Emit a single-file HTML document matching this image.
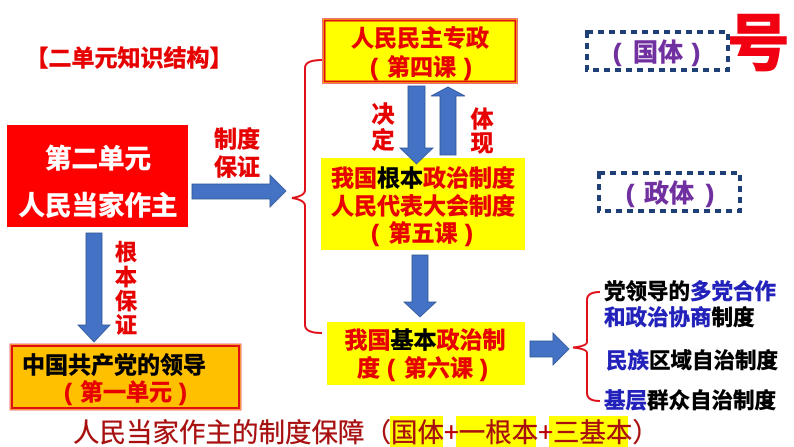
<!DOCTYPE html>
<html><head><meta charset="utf-8">
<style>
html,body{margin:0;padding:0;background:#fff;width:794px;height:447px;overflow:hidden}
svg{display:block}
text{font-family:"Liberation Sans","Noto Sans CJK SC",sans-serif;font-weight:700;stroke-width:.55px}
.r{fill:#E60000;stroke:#E60000}
.k{fill:#000;stroke:#000}
.b{fill:#2222BB;stroke:#2222BB}
.w{fill:#fff;stroke:#fff}
.p{fill:#7030A0;stroke:#7030A0}
.m{text-anchor:middle}
.ar{fill:#4472C4;stroke:#2F5597;stroke-width:.8}
</style></head><body>
<svg width="794" height="447" viewBox="0 0 794 447" xmlns="http://www.w3.org/2000/svg">
<rect width="794" height="447" fill="#fff"/>

<!-- title -->
<text x="129" y="66" font-size="23" class="r m">【二单元知识结构】</text>

<!-- red box -->
<rect x="7" y="125" width="181" height="102" fill="#FF0000"/>
<text x="98" y="168" font-size="26.500" class="w m">第二单元</text>
<text x="98" y="215" font-size="26.500" class="w m">人民当家作主</text>

<!-- arrow right -->
<polygon class="ar" points="192,184 270,184 270,175 286,191 270,207 270,199 192,199"/>
<text x="237" y="147" font-size="23" class="r m">制度</text>
<text x="237" y="175" font-size="23" class="r m">保证</text>

<!-- left bracket -->
<path d="M322 60 Q305 60 305 68 L305 190 Q305 196 292 198 Q305 200 305 206 L305 325 Q305 333 322 333" fill="none" stroke="#E0101A" stroke-width="2"/>

<!-- top box -->
<rect x="322.500" y="18.500" width="195" height="65" fill="#FFFF00" stroke="#F0707A" stroke-width="1"/>
<rect x="324.500" y="20.500" width="191" height="61" fill="#FFFF00" stroke="#E01010" stroke-width="2"/>
<text x="420" y="46" font-size="23" class="r m">人民民主专政</text>
<text x="374" y="75" font-size="23" class="r m">(</text>
<text x="421.500" y="75" font-size="23" class="r m">第四课</text>
<text x="468" y="75" font-size="23" class="r m">)</text>

<!-- middle box -->
<rect x="321" y="158" width="204" height="92" fill="#FFFF00"/>
<text x="423" y="186" font-size="23" class="r m">我国<tspan class="k">根本</tspan>政治制度</text>
<text x="423" y="214" font-size="23" class="r m">人民代表大会制度</text>
<text x="375" y="241" font-size="23" class="r m">(</text>
<text x="423" y="241" font-size="23" class="r m">第五课</text>
<text x="469" y="241" font-size="23" class="r m">)</text>

<!-- down/up arrows -->
<polygon class="ar" points="408,86 425,86 425,148 433,148 416.500,164 400,148 408,148"/>
<polygon class="ar" points="440,155 456,155 456,96 465,96 448,87 431,96 440,96"/>
<text x="383" y="122" font-size="23" class="r m">决</text>
<text x="383" y="148" font-size="23" class="r m">定</text>
<text x="482" y="127" font-size="23" class="r m">体</text>
<text x="482" y="151" font-size="23" class="r m">现</text>

<!-- down arrow -->
<polygon class="ar" points="412,255 428,255 428,302 436,302 420,317 404,302 412,302"/>

<!-- lower box -->
<rect x="327" y="322" width="198" height="63" fill="#FFFF00"/>
<text x="425" y="348" font-size="23" class="r m">我国<tspan class="k">基本</tspan>政治制</text>
<text x="368.500" y="376" font-size="23" class="r m">度</text>
<text x="391" y="376" font-size="23" class="r m">(</text>
<text x="438.500" y="376" font-size="23" class="r m">第六课</text>
<text x="484" y="376" font-size="23" class="r m">)</text>

<!-- left lower arrow -->
<polygon class="ar" points="86,233 102,233 102,325 110,325 94,342 78,325 86,325"/>
<text x="126" y="260" font-size="22" class="r m">根</text>
<text x="126" y="285" font-size="22" class="r m">本</text>
<text x="126" y="309" font-size="22" class="r m">保</text>
<text x="126" y="333" font-size="22" class="r m">证</text>

<!-- orange box -->
<rect x="10" y="344" width="231" height="66" fill="#FFC000" stroke="#F0707A" stroke-width="1"/>
<rect x="12" y="346" width="227" height="62" fill="#FFC000" stroke="#E01010" stroke-width="2"/>
<text x="114" y="373" font-size="23" class="k m">中国共产党的领导</text>
<text x="68" y="400" font-size="23" class="r m">(</text>
<text x="126" y="400" font-size="23" class="r m">第一单元</text>
<text x="183" y="400" font-size="23" class="r m">)</text>

<!-- right arrow -->
<polygon class="ar" points="530,341 553,341 553,333 569,349 553,365 553,357 530,357"/>

<!-- right bracket -->
<path d="M600 292 Q587 292 587 300 L587 342 Q587 346 573 347.500 Q587 349 587 353 L587 393 Q587 401 600 401" fill="none" stroke="#E0101A" stroke-width="2"/>

<!-- right texts -->
<text x="604" y="299" font-size="21.500" class="k">党领导的<tspan class="b">多党合作</tspan></text>
<text x="604" y="325" font-size="21.500" class="b">和政治协商<tspan class="k">制度</tspan></text>
<text x="606" y="368" font-size="21.500" class="b">民族<tspan class="k">区域自治制度</tspan></text>
<text x="604" y="408" font-size="21.500" class="b">基层<tspan class="k">群众自治制度</tspan></text>

<!-- dashed boxes -->
<rect x="587" y="32" width="141" height="38" fill="none" stroke="#1F3F77" stroke-width="4" stroke-dasharray="6 5"/>
<text x="617" y="61" font-size="25" class="p m">(</text>
<text x="658" y="61" font-size="25" class="p m">国体</text>
<text x="696" y="61" font-size="25" class="p m">)</text>
<rect x="599" y="173" width="141" height="38" fill="none" stroke="#1F3F77" stroke-width="4" stroke-dasharray="6 5"/>
<text x="630" y="202" font-size="25" class="p m">(</text>
<text x="669" y="202" font-size="25" class="p m">政体</text>
<text x="710" y="202" font-size="25" class="p m">)</text>

<!-- big glyph -->
<text x="758.500" y="65" font-size="62" fill="#F00010" stroke="#F00010" style="stroke-width:1.500px" text-anchor="middle">号</text>

<!-- bottom line -->
<rect x="390" y="416" width="53" height="31" fill="#FFFF00"/>
<rect x="456" y="416" width="80" height="31" fill="#FFFF00"/>
<rect x="549" y="416" width="79" height="31" fill="#FFFF00"/>
<text x="73" y="442" font-size="26.500" fill="#A81010" stroke="#A81010" style="font-weight:400;font-family:'Noto Sans CJK SC',sans-serif;stroke-width:.3px">人民当家作主的制度保障（国体<tspan fill="#C00000">+</tspan>一根本<tspan fill="#C00000">+</tspan>三基本）</text>
</svg>
</body></html>
